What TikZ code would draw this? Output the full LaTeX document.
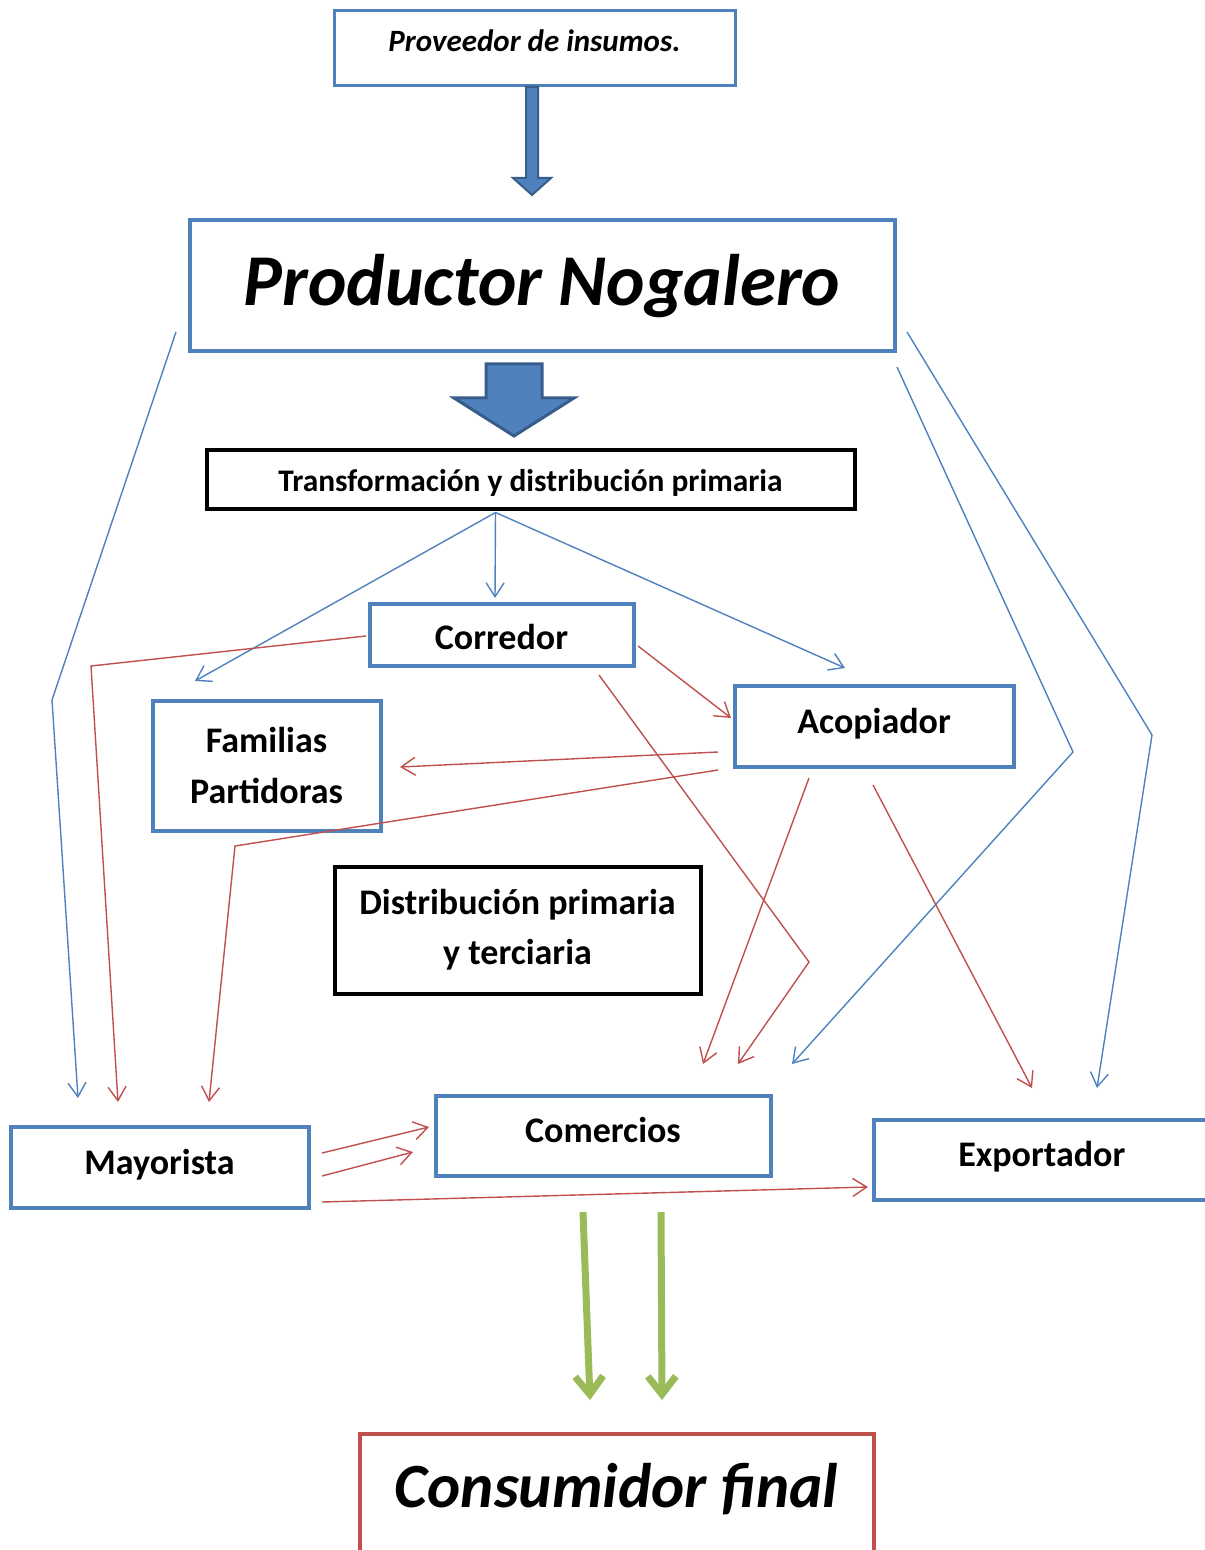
\documentclass[tikz,border=0pt]{standalone}
\usepackage{fontspec}
\setmainfont{Carlito}
\usetikzlibrary{arrows.meta,calc}

\definecolor{azul}{HTML}{4F81BD}
\definecolor{azuloscuro}{HTML}{385D8A}
\definecolor{rojo}{HTML}{C0504D}
\definecolor{verde}{HTML}{9BBB59}

\begin{document}
\begin{tikzpicture}[x=0.5pt, y=-0.5pt,
    caja/.style={draw=azul, line width=2pt, rectangle, align=center, font=\bfseries},
    cajanegra/.style={draw=black, line width=2pt, rectangle, align=center, font=\bfseries},
    texto/.style={font=\bfseries\fontsize{18}{22}\selectfont, text height=12pt, text depth=5pt},
    flechaazul/.style={draw=azul, line width=0.7pt, -{Straight Barb[length=7pt, width=9pt]}},
    flecharoja/.style={draw=rojo, line width=0.7pt, -{Straight Barb[length=7pt, width=9pt]}},
    flechaverde/.style={draw=verde, line width=3.5pt, -{Straight Barb[length=9pt, width=14pt]}},
    flechagruesa/.style={draw=azuloscuro, fill=azul, line width=1.5pt, line join=miter}]

        \useasboundingbox (0,0) rectangle (1204,1550);

        % Cajas de arriba
        \node[caja, line width=1.5pt, minimum width=200.5pt, minimum height=37.5pt, text height=10pt, text depth=6pt,
              font=\bfseries\itshape\fontsize{15.5}{18}\selectfont] (proveedor) at (534.5,48) {Proveedor de insumos.};
        \node[caja, minimum width=352.5pt, minimum height=65.5pt,
              font=\bfseries\itshape\fontsize{36.5}{44}\selectfont] (productor) at (542,286) {Productor Nogalero};
        \node[cajanegra, minimum width=324pt, minimum height=29.5pt, text height=12pt, text depth=0pt,
              font=\bfseries\fontsize{15.7}{18}\selectfont] (transformacion) at (530.5,480) {Transformación y distribución primaria};

        % Intermediarios
        \node[caja, minimum width=132pt, minimum height=31pt, texto, text height=15pt, text depth=0pt] (corredor) at (501.5,634.5) {Corredor};
        \node[caja, minimum width=114pt, minimum height=65pt,
              font=\bfseries\fontsize{18}{25.5}\selectfont] (familias) at (266.5,765.5) {Familias\\Partidoras};
        \node[caja, minimum width=139.5pt, minimum height=40.5pt, texto] (acopiador) at (874,726) {Acopiador};
        \node[cajanegra, minimum width=183pt, minimum height=63.5pt,
              font=\bfseries\fontsize{18}{25}\selectfont] (distribucion) at (517.5,930) {Distribución primaria\\y terciaria};

        % Cajas de abajo
        \node[caja, minimum width=167.5pt, minimum height=40pt, texto] (comercios) at (603,1135.5) {Comercios};
        \node[caja, minimum width=149pt, minimum height=40.5pt, texto] (mayorista) at (159.5,1167) {Mayorista};
        \node[caja, minimum width=168.25pt, minimum height=40pt, texto] (exportador) at (1041.75,1159.5) {Exportador};
        \node[draw=rojo, line width=2pt, minimum width=257pt, anchor=north, inner ysep=10pt,
              text height=26.5pt, text depth=40pt,
              font=\bfseries\itshape\fontsize{31.5}{38}\selectfont] (consumidor) at (616.5,1432) {Consumidor final};

        % Flechas gruesas
        \draw[flechagruesa, line width=1pt] ($(proveedor.south)+(-8.5,0)$) -- ++(0,91) -- ++(-13,0) -- ++(19,17) -- ++(19,-17) -- ++(-13,0) -- ++(0,-91) -- cycle;
        \draw[flechagruesa] ($(productor.south)+(-56,10.5)$) -- ++(0,34) -- ++(-32,0) -- ++(60,38) -- ++(60,-38) -- ++(-32,0) -- ++(0,-34) -- cycle;

        % Flechas azules
        \coordinate (salida) at ($(transformacion.south)+(-35,1)$);
        \draw[flechaazul] (salida) -- ($(corredor.north)+(-6.5,-3.5)$);
        \draw[flechaazul] (salida) -- ($(familias.north)+(-71.5,-17.5)$);
        \draw[flechaazul] (salida) -- ($(acopiador.north)+(-29,-15.5)$);
        \draw[flechaazul] ($(productor.south west)+(-11.5,-21.5)$) -- (52,700) -- ($(mayorista.north west)+(69.5,-26.5)$);
        \draw[flechaazul] ($(productor.south east)+(0.5,13.5)$) -- (1073,752) -- ($(comercios.north east)+(19.5,-29.5)$);
        \draw[flechaazul] ($(productor.south east)+(10.5,-21.5)$) -- (1152,735) -- ($(exportador.north)+(55.25,-29.5)$);

        % Flechas rojas
        \draw[flecharoja] ($(corredor.west)+(-1.5,1.5)$) -- (91,666) -- ($(mayorista.north west)+(109.5,-22.5)$);
        \draw[flecharoja] ($(corredor.east)+(2.5,11.5)$) -- ($(acopiador.west)+(-1.5,-8)$);
        \draw[flecharoja] ($(corredor.south)+(97.5,7.5)$) -- (809,962) -- ($(comercios.north)+(135,-29.5)$);
        \draw[flecharoja] ($(acopiador.west)+(-14.5,26)$) -- ($(familias.east)+(17.5,1.5)$);
        \draw[flecharoja] ($(acopiador.south west)+(-14.5,1.5)$) -- (235,846) -- ($(mayorista.north)+(49.5,-22.5)$);
        \draw[flecharoja] ($(acopiador.south)+(-65,9.5)$) -- ($(comercios.north)+(100,-29.5)$);
        \draw[flecharoja] ($(acopiador.south)+(-1,16.5)$) -- ($(exportador.north)+(-9.75,-29.5)$);
        \draw[flecharoja] ($(mayorista.east)+(11.5,-14)$) -- ($(comercios.west)+(-4.5,-8.5)$);
        \draw[flecharoja] ($(mayorista.east)+(11.5,9)$) -- ($(comercios.west)+(-20.5,16.5)$);
        \draw[flecharoja] ($(mayorista.south east)+(11.5,-7.5)$) -- ($(exportador.west)+(-3.5,27.5)$);

        % Flechas verdes
        \draw[flechaverde] ($(comercios.south)+(-20,34.5)$) -- ($(consumidor.north)+(-26.5,-32)$);
        \draw[flechaverde] ($(comercios.south)+(58,34.5)$) -- ($(consumidor.north)+(45.5,-32)$);

\end{tikzpicture}
\end{document}
